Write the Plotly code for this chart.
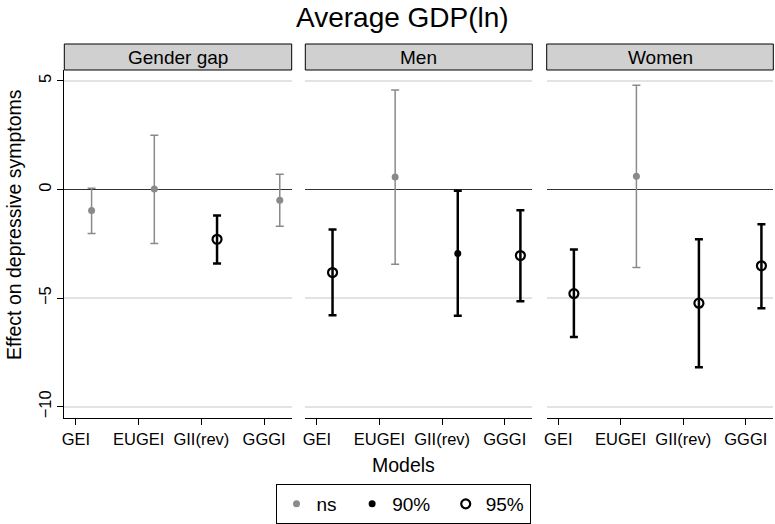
import plotly.graph_objects as go

W, H = 775, 524
FONT = "Liberation Sans, Arial, sans-serif"

models = ["GEI", "EUGEI", "GII(rev)", "GGGI"]
panels = ["Gender gap", "Men", "Women"]

gap_est = [-0.97, 0.02, -2.29, -0.49]
gap_lo = [-2.02, -2.48, -3.40, -1.69]
gap_hi = [0.06, 2.50, -1.20, 0.70]
gap_sig = ["ns", "ns", "95%", "ns"]

men_est = [-3.82, 0.58, -2.94, -3.04]
men_lo = [-5.78, -3.44, -5.81, -5.14]
men_hi = [-1.84, 4.58, -0.06, -0.95]
men_sig = ["95%", "ns", "90%", "95%"]

women_est = [-4.79, 0.61, -5.23, -3.51]
women_lo = [-6.79, -3.59, -8.18, -5.46]
women_hi = [-2.76, 4.80, -2.29, -1.60]
women_sig = ["95%", "ns", "95%", "95%"]

y_ticks = [5, 0, -5, -10]
levels = ["ns", "90%", "95%"]

panel_data = [
    (gap_est, gap_lo, gap_hi, gap_sig),
    (men_est, men_lo, men_hi, men_sig),
    (women_est, women_lo, women_hi, women_sig),
]

styles = {
    "ns": dict(color="#8a8a8a", symbol="circle", size=7, lw=0, bar=1.5),
    "90%": dict(color="black", symbol="circle", size=7, lw=0, bar=2.5),
    "95%": dict(color="black", symbol="circle-open", size=9, lw=2.2, bar=2.5),
}
legend_pad = {"ns": "\u00a0\u00a0", "90%": "\u00a0\u00a0", "95%": ""}
OFFSET = 0.25

# pixel layout
panel_px = [(64.3, 291.7), (305.3, 532.3), (546.7, 773.3)]
top_px, bot_px = 70, 417.7
px = lambda v: v / W
py = lambda v: (H - v) / H

fig = go.Figure()
for p, (est, lo, hi, sig) in enumerate(panel_data):
    xa = "x" if p == 0 else f"x{p+1}"
    ya = "y" if p == 0 else f"y{p+1}"
    for level in levels:
        idx = [i for i, s in enumerate(sig) if s == level]
        if not idx:
            continue
        st = styles[level]
        xs = [i + 1 + OFFSET for i in idx]
        ys = [est[i] for i in idx]
        plus = [hi[i] - est[i] for i in idx]
        minus = [est[i] - lo[i] for i in idx]
        fig.add_trace(go.Scatter(
            x=xs, y=ys, xaxis=xa, yaxis=ya, mode="markers",
            marker=dict(color=st["color"], symbol=st["symbol"], size=st["size"],
                        line=dict(width=st["lw"], color=st["color"])),
            error_y=dict(type="data", symmetric=False, array=plus, arrayminus=minus,
                         color=st["color"], thickness=st["bar"], width=4),
            showlegend=False, hoverinfo="skip",
        ))

# legend-only entries
for level in levels:
    st = styles[level]
    fig.add_trace(go.Scatter(
        x=[None], y=[None], mode="markers", name=level + legend_pad[level],
        marker=dict(color=st["color"], symbol=st["symbol"], size=st["size"],
                    line=dict(width=st["lw"], color=st["color"])),
        showlegend=True,
    ))

layout = dict(
    width=W, height=H,
    margin=dict(l=0, r=0, t=0, b=0),
    paper_bgcolor="white", plot_bgcolor="white",
    font=dict(family=FONT, color="black"),
    showlegend=True,
    legend=dict(
        orientation="h", x=px(403), xanchor="center", y=py(484), yanchor="top",
        bordercolor="black", borderwidth=1, bgcolor="white",
        font=dict(size=19, family=FONT), traceorder="normal",
    ),
)

for p in range(3):
    xk = "xaxis" if p == 0 else f"xaxis{p+1}"
    yk = "yaxis" if p == 0 else f"yaxis{p+1}"
    l, r = panel_px[p]
    layout[xk] = dict(
        domain=[px(l), px(r)], range=[0.815, 4.44],
        tickvals=[1, 2, 3, 4], ticktext=models,
        showline=True, linecolor="black", linewidth=1,
        ticks="outside", ticklen=6, tickwidth=1, tickcolor="black",
        showgrid=False, zeroline=False, automargin=False,
        tickfont=dict(size=16.5, family=FONT),
        anchor="y" if p == 0 else f"y{p+1}",
    )
    layout[yk] = dict(
        domain=[py(bot_px), py(top_px)], range=[-10.5, 5.5],
        tickvals=y_ticks,
        showgrid=True, gridcolor="#e3e3e3", gridwidth=1.8,
        zeroline=True, zerolinecolor="#333333", zerolinewidth=1.3,
        automargin=False,
        anchor="x" if p == 0 else f"x{p+1}",
    )
    if p == 0:
        layout[yk].update(
            showline=True, linecolor="black", linewidth=1,
            ticks="outside", ticklen=6, tickwidth=1, tickcolor="black",
            tickangle=-90, tickfont=dict(size=16.5, family=FONT),
        )
    else:
        layout[yk].update(showline=False, ticks="", showticklabels=False, matches="y")

fig.update_layout(**layout)

shapes = []
annotations = []
for p in range(3):
    l, r = panel_px[p]
    shapes.append(dict(type="rect", xref="paper", yref="paper",
                       x0=px(l), x1=px(r), y0=py(70), y1=py(44),
                       fillcolor="#d0d0d0", line=dict(color="black", width=1)))
    annotations.append(dict(text=panels[p], xref="paper", yref="paper",
                            x=px((l + r) / 2), y=py(57), showarrow=False,
                            xanchor="center", yanchor="middle",
                            font=dict(size=19, family=FONT)))

annotations.append(dict(text="Average GDP(ln)", xref="paper", yref="paper",
                        x=px(402), y=py(17), showarrow=False,
                        xanchor="center", yanchor="middle",
                        font=dict(size=28, family=FONT)))
annotations.append(dict(text="Effect on depressive symptoms", xref="paper", yref="paper",
                        x=px(14), y=py(225), showarrow=False, textangle=-90,
                        xanchor="center", yanchor="middle",
                        font=dict(size=19.5, family=FONT)))
annotations.append(dict(text="Models", xref="paper", yref="paper",
                        x=px(403), y=py(465), showarrow=False,
                        xanchor="center", yanchor="middle",
                        font=dict(size=19.5, family=FONT)))

fig.update_layout(shapes=shapes, annotations=annotations)
fig.write_html("out.html", config={"displayModeBar": False},
               post_script="document.body.style.margin='0';document.body.style.overflow='hidden';")
